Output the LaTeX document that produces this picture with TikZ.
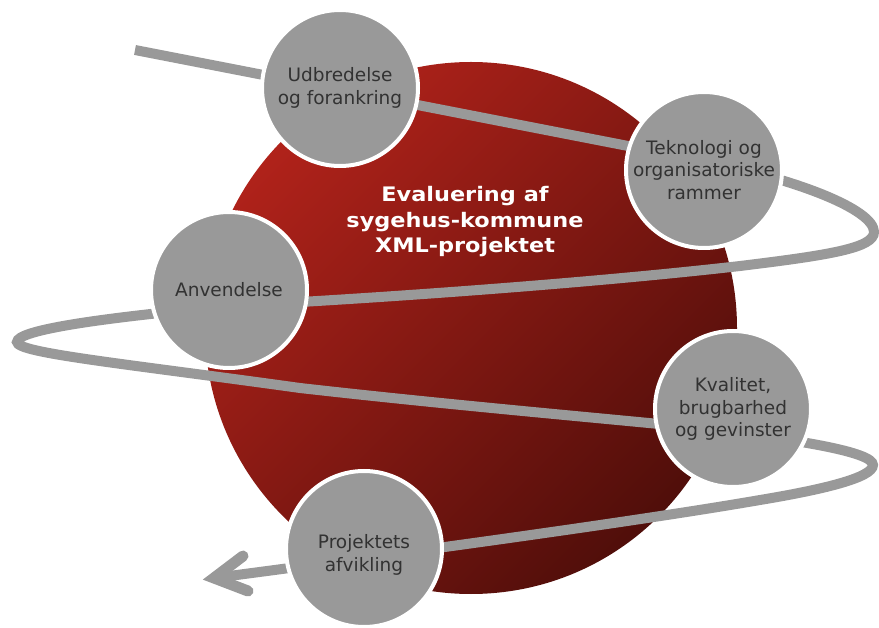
\documentclass[tikz,border=0pt]{standalone}
\usepackage{fontspec}
\setmainfont{DejaVu Sans}
\definecolor{stagegray}{RGB}{153,153,153}
\definecolor{textgray}{RGB}{50,50,50}
\definecolor{redlight}{RGB}{176,34,26}
\definecolor{redmid}{RGB}{140,26,20}
\definecolor{reddark}{RGB}{80,14,10}
\begin{document}
\begin{tikzpicture}[x=1pt,y=-1pt,
  stage/.style={circle, fill=stagegray, draw=white, line width=4pt, minimum size=156pt, inner sep=0pt},
  stagetext/.style={text=textgray, font=\fontsize{18.5}{22.7}\selectfont, align=center, inner sep=0pt},
  titletext/.style={text=white, font=\bfseries\addfontfeature{FakeStretch=1.12}\fontsize{20}{25.5}\selectfont, align=center, inner sep=0pt},
  ribbon/.style={draw=stagegray, line width=10pt},
  arrowwing/.style={draw=stagegray, line width=11pt, line cap=round, line join=miter}]
\useasboundingbox (0,0) rectangle (879,628);
% big red sphere
\shade[shading=axis, top color=redlight, middle color=redmid, bottom color=reddark, shading angle=45] (471,328) circle (266pt);
\node[titletext] (title) at (465,222) {Evaluering af\\sygehus-kommune\\XML-projektet};
% ribbon
\coordinate (start) at (135,50);
\coordinate (tip) at (214,578);
\draw[ribbon] (start) -- (700,160) .. controls (800,180) and (874,210) .. (874,232)
  .. controls (874,248) and (830,255) .. (740,266)
  .. controls (600,282) and (400,297) .. (230,306)
  .. controls (100,318) and (17,330) .. (17,342)
  .. controls (17,353) and (120,363) .. (300,388)
  .. controls (450,405) and (600,418) .. (700,428)
  .. controls (800,440) and (873,452) .. (873,465)
  .. controls (873,478) and (820,490) .. (760,500)
  .. controls (650,519) and (450,547) .. (tip);
\coordinate (wingA) at (243,556);
\coordinate (wingB) at (248,591);
\draw[arrowwing] (wingA) -- (tip) -- (wingB);
% stage circles
\node[stage] (s1) at (340,88) {};
\node[stage] (s2) at (704,170) {};
\node[stage] (s3) at (229,290) {};
\node[stage] (s4) at (733,409) {};
\node[stage] (s5) at (364,549) {};
\node[stagetext] (t1) at (s1.center) {Udbredelse\\og forankring};
\node[stagetext] (t2) at (s2.center) {Teknologi og\\organisatoriske\\rammer};
\node[stagetext] (t3) at (s3.center) {Anvendelse};
\node[stagetext] (t4) at (s4.center) {Kvalitet,\\brugbarhed\\og gevinster};
\node[stagetext] (t5) at ([yshift=-6pt]s5.center) {Projektets\\afvikling};
\end{tikzpicture}
\end{document}
